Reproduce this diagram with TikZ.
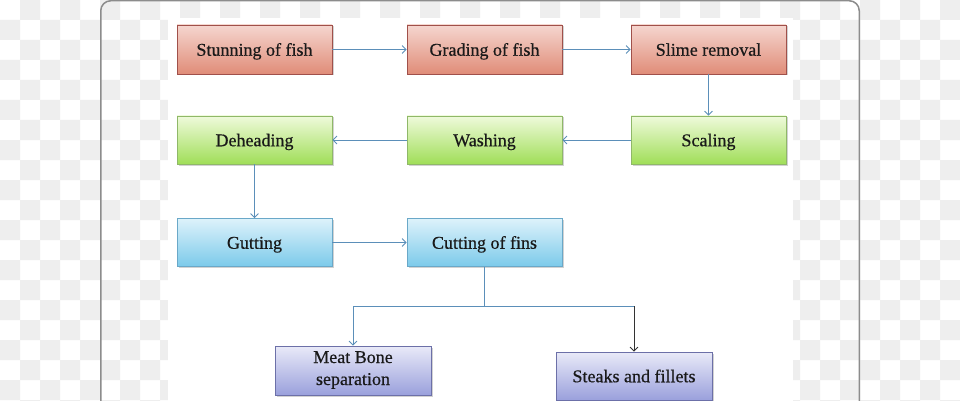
\documentclass[tikz,border=0pt]{standalone}
\usepackage{fontspec}
\setmainfont{Liberation Serif}
\newfontfamily\boxfont{Liberation Serif}[FakeBold=0.5]
\usetikzlibrary{arrows.meta,shadows}
\definecolor{checker}{HTML}{EEEEEE}
\definecolor{framec}{HTML}{8C8C8C}
\definecolor{linec}{HTML}{5B8FB9}
\definecolor{darkl}{HTML}{333333}
\definecolor{redT}{HTML}{F5D6CF}
\definecolor{redB}{HTML}{E08C78}
\definecolor{redD}{HTML}{A0504A}
\definecolor{grnT}{HTML}{EFFADB}
\definecolor{grnB}{HTML}{A0DE58}
\definecolor{grnD}{HTML}{8FB868}
\definecolor{bluT}{HTML}{DDF2FB}
\definecolor{bluB}{HTML}{7CCAEA}
\definecolor{bluD}{HTML}{6AA8C8}
\definecolor{purT}{HTML}{E9EAF8}
\definecolor{purB}{HTML}{9AA0DC}
\definecolor{purD}{HTML}{6C70A8}
\tikzset{
  box/.style={minimum width=155pt, minimum height=49pt, inner sep=1pt,
    align=center, text=black!90, line width=0.8pt,
    text height=12.5pt, text depth=0pt,
    font=\boxfont\fontsize{18}{22}\selectfont,
    drop shadow={shadow xshift=1.5pt, shadow yshift=-1.5pt, opacity=0.35, fill=gray}},
  redbox/.style={box, top color=redT, bottom color=redB, draw=redD},
  grnbox/.style={box, top color=grnT, bottom color=grnB, draw=grnD},
  blubox/.style={box, top color=bluT, bottom color=bluB, draw=bluD},
  purbox/.style={box, top color=purT, bottom color=purB, draw=purD},
  flow/.style={draw=linec, line width=0.8pt, -{Straight Barb[length=4pt,width=8pt,line width=0.8pt]}},
  flowdark/.style={draw=darkl, line width=0.8pt, -{Straight Barb[length=4pt,width=8pt,line width=0.8pt]}},
  plain/.style={draw=linec, line width=0.8pt}
}
\begin{document}
\begin{tikzpicture}[x=1pt,y=-1pt]
\useasboundingbox (0,0) rectangle (960,401);
\fill[white] (0,0) rectangle (960,401);
% transparency checkerboard
\fill[checker]
  \foreach \i in {0,...,47}{ \foreach \j in {0,...,20}{
    \pgfextra{\pgfmathtruncatemacro\odd{mod(\i+\j,2)}}
    \ifnum\odd=1 (\i*20,\j*20) rectangle ++(20,20) \fi }};
% frame
\draw[framec, line width=1.5pt, rounded corners=10pt] (100.75,402) -- (100.75,0.75) -- (859.25,0.75) -- (859.25,402);
% white panel
\fill[white] (168,18) rectangle (793,401);
% nodes
\node[redbox] (s1) at (254.5,49.5) {Stunning of fish};
\node[redbox] (s2) at (484.5,49.5) {Grading of fish};
\node[redbox] (s3) at (708.5,49.5) {Slime removal};
\node[grnbox, minimum height=48pt] (g3) at (708.5,140) {Scaling};
\node[grnbox, minimum height=48pt] (g2) at (484.5,140) {Washing};
\node[grnbox, minimum height=48pt] (g1) at (254.5,140) {Deheading};
\node[blubox, minimum height=48pt] (b1) at (254.5,242.5) {Gutting};
\node[blubox, minimum height=48pt] (b2) at (484.5,242.5) {Cutting of fins};
\node[purbox, minimum width=156pt, text height=34pt, text depth=5pt] (p1) at (353,370.5) {Meat Bone\\separation};
\node[purbox, minimum width=156pt, minimum height=48pt] (p2) at (634,376) {Steaks and fillets};
% connectors
\draw[flow] (s1) -- (s2);
\draw[flow] (s2) -- (s3);
\draw[flow] (s3) -- (g3);
\draw[flow] (g3) -- (g2);
\draw[flow] (g2) -- (g1);
\draw[flow] (g1) -- (b1);
\draw[flow] (b1) -- (b2);
\coordinate (j) at (484.5,306);
\coordinate (k) at (p2.north |- j);
\draw[plain] (b2.south) -- (j);
\draw[flow] (j) -| (p1.north);
\draw[plain] (j) -- (k);
\draw[flowdark] (k) -- (p2.north);
\end{tikzpicture}
\end{document}
